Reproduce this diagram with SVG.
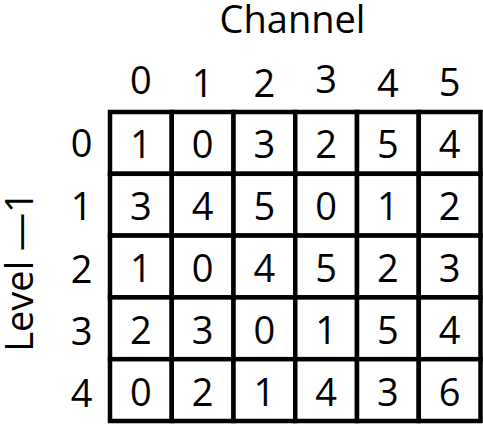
<svg xmlns="http://www.w3.org/2000/svg" width="483" height="424" viewBox="0 0 483 424">
<style>
text{font-family:"Open Sans","Noto Sans","Liberation Sans",sans-serif;font-size:38px;fill:#000;text-anchor:middle}
.c{fill:#fff;stroke:#000;stroke-width:4.5}
</style>
<rect width="483" height="424" fill="#fff"/>
<g id="title"><text x="292.5" y="33.3">Channel</text></g>
<g id="ylabel"><text transform="translate(33,271.5) rotate(-90)" font-size="41">Level —1</text></g>
<g id="colheads">
<text x="140.9" y="94">0</text>
<text x="202.6" y="96.5">1</text>
<text x="264.4" y="96.5">2</text>
<text x="326.1" y="93">3</text>
<text x="387.9" y="96.5">4</text>
<text x="449.6" y="95.5">5</text>
</g>
<g id="rowheads">
<text x="81.7" y="156.5">0</text>
<text x="81.7" y="220">1</text>
<text x="81.7" y="283">2</text>
<text x="81.7" y="344.5">3</text>
<text x="81.7" y="406.5">4</text>
</g>
<g id="grid">
<g id="r0">
<rect class="c" x="110" y="112" width="61.75" height="61.8"/><text x="140.9" y="158.4">1</text>
<rect class="c" x="171.75" y="112" width="61.75" height="61.8"/><text x="202.6" y="158.4">0</text>
<rect class="c" x="233.5" y="112" width="61.75" height="61.8"/><text x="264.4" y="158.4">3</text>
<rect class="c" x="295.25" y="112" width="61.75" height="61.8"/><text x="326.1" y="158.4">2</text>
<rect class="c" x="357" y="112" width="61.75" height="61.8"/><text x="387.9" y="158.4">5</text>
<rect class="c" x="418.75" y="112" width="61.75" height="61.8"/><text x="449.6" y="158.4">4</text>
</g>
<g id="r1">
<rect class="c" x="110" y="173.8" width="61.75" height="61.8"/><text x="140.9" y="220.2">3</text>
<rect class="c" x="171.75" y="173.8" width="61.75" height="61.8"/><text x="202.6" y="220.2">4</text>
<rect class="c" x="233.5" y="173.8" width="61.75" height="61.8"/><text x="264.4" y="220.2">5</text>
<rect class="c" x="295.25" y="173.8" width="61.75" height="61.8"/><text x="326.1" y="220.2">0</text>
<rect class="c" x="357" y="173.8" width="61.75" height="61.8"/><text x="387.9" y="220.2">1</text>
<rect class="c" x="418.75" y="173.8" width="61.75" height="61.8"/><text x="449.6" y="220.2">2</text>
</g>
<g id="r2">
<rect class="c" x="110" y="235.6" width="61.75" height="61.8"/><text x="140.9" y="282">1</text>
<rect class="c" x="171.75" y="235.6" width="61.75" height="61.8"/><text x="202.6" y="282">0</text>
<rect class="c" x="233.5" y="235.6" width="61.75" height="61.8"/><text x="264.4" y="282">4</text>
<rect class="c" x="295.25" y="235.6" width="61.75" height="61.8"/><text x="326.1" y="282">5</text>
<rect class="c" x="357" y="235.6" width="61.75" height="61.8"/><text x="387.9" y="282">2</text>
<rect class="c" x="418.75" y="235.6" width="61.75" height="61.8"/><text x="449.6" y="282">3</text>
</g>
<g id="r3">
<rect class="c" x="110" y="297.4" width="61.75" height="61.8"/><text x="140.9" y="343.8">2</text>
<rect class="c" x="171.75" y="297.4" width="61.75" height="61.8"/><text x="202.6" y="343.8">3</text>
<rect class="c" x="233.5" y="297.4" width="61.75" height="61.8"/><text x="264.4" y="343.8">0</text>
<rect class="c" x="295.25" y="297.4" width="61.75" height="61.8"/><text x="326.1" y="343.8">1</text>
<rect class="c" x="357" y="297.4" width="61.75" height="61.8"/><text x="387.9" y="343.8">5</text>
<rect class="c" x="418.75" y="297.4" width="61.75" height="61.8"/><text x="449.6" y="343.8">4</text>
</g>
<g id="r4">
<rect class="c" x="110" y="359.2" width="61.75" height="61.8"/><text x="140.9" y="405.6">0</text>
<rect class="c" x="171.75" y="359.2" width="61.75" height="61.8"/><text x="202.6" y="405.6">2</text>
<rect class="c" x="233.5" y="359.2" width="61.75" height="61.8"/><text x="264.4" y="405.6">1</text>
<rect class="c" x="295.25" y="359.2" width="61.75" height="61.8"/><text x="326.1" y="405.6">4</text>
<rect class="c" x="357" y="359.2" width="61.75" height="61.8"/><text x="387.9" y="405.6">3</text>
<rect class="c" x="418.75" y="359.2" width="61.75" height="61.8"/><text x="449.6" y="405.6">6</text>
</g>
</g>
</svg>
